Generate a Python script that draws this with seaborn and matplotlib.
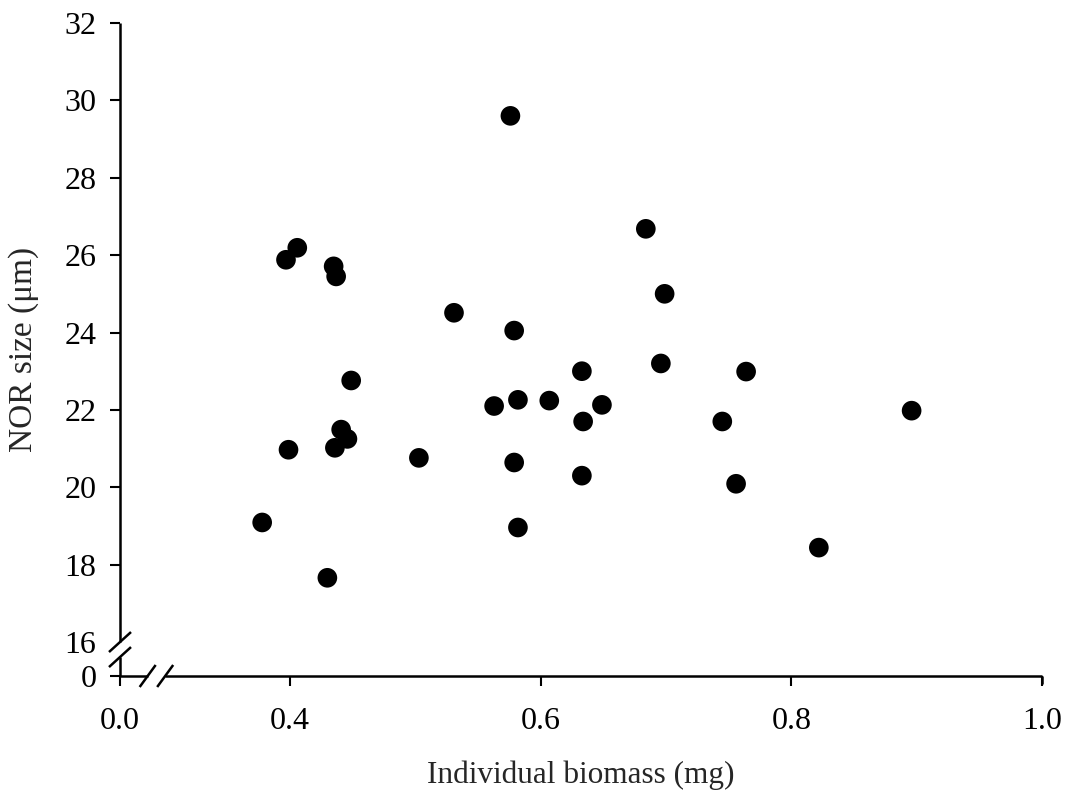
import numpy as np
import pandas as pd
import seaborn as sns
import matplotlib
matplotlib.use("Agg")
import matplotlib.pyplot as plt
from matplotlib.lines import Line2D

# Data (biomass in mg, NOR size in um).
biomass = [0.378, 0.397, 0.406, 0.399, 0.435, 0.437, 0.430, 0.436, 0.441, 0.446,
           0.449, 0.503, 0.531, 0.563, 0.576, 0.579, 0.582, 0.582, 0.579, 0.607,
           0.633, 0.634, 0.633, 0.684, 0.649, 0.696, 0.699, 0.745, 0.756, 0.764,
           0.822, 0.896]
nor_size = [19.09, 25.88, 26.19, 20.97, 25.71, 25.45, 17.66, 21.02, 21.49, 21.25,
            22.76, 20.76, 24.51, 22.10, 29.60, 24.05, 22.26, 18.96, 20.64, 22.24,
            23.00, 21.70, 20.30, 26.68, 22.13, 23.20, 25.00, 21.70, 20.09, 22.99,
            18.44, 21.98]

x_ticks = [0.0, 0.4, 0.6, 0.8, 1.0]
x_tick_labels = ["0.0", "0.4", "0.6", "0.8", "1.0"]
y_ticks = [0, 16, 18, 20, 22, 24, 26, 28, 30, 32]
y_tick_labels = ["0", "16", "18", "20", "22", "24", "26", "28", "30", "32"]

df = pd.DataFrame({"biomass": biomass, "nor": nor_size})

sns.set_style("ticks")
plt.rcParams["font.family"] = ["Liberation Serif", "DejaVu Serif"]

# Broken axes: compress the empty stretch below the break.
XB, KX = 0.3, 0.118
YB, KY = 16.0, 0.0549


def fwd_x(v):
    v = np.asarray(v, dtype=float)
    return np.where(v >= XB, v, XB - (XB - v) * KX)


def inv_x(v):
    v = np.asarray(v, dtype=float)
    return np.where(v >= XB, v, XB - (XB - v) / KX)


def fwd_y(v):
    v = np.asarray(v, dtype=float)
    return np.where(v >= YB, v, YB - (YB - v) * KY)


def inv_y(v):
    v = np.asarray(v, dtype=float)
    return np.where(v >= YB, v, YB - (YB - v) / KY)


fig = plt.figure(figsize=(10.68, 7.97), dpi=100)
ax = fig.add_axes([120 / 1068, 1 - 676 / 797, 922 / 1068, 653 / 797])

sns.scatterplot(data=df, x="biomass", y="nor", ax=ax, color="black",
                s=200, edgecolor="none", linewidth=0, clip_on=False)

ax.set_xscale("function", functions=(fwd_x, inv_x))
ax.set_yscale("function", functions=(fwd_y, inv_y))
ax.set_xlim(0, 1.0)
ax.set_ylim(0, 32)

ax.set_xticks(x_ticks)
ax.set_xticklabels(x_tick_labels)
ax.set_yticks(y_ticks)
ax.set_yticklabels(y_tick_labels)
ax.minorticks_off()

ax.tick_params(axis="x", direction="out", length=7, width=1.5, pad=15,
               labelsize=23, colors="black")
ax.tick_params(axis="y", direction="out", length=7, width=1.5, pad=10,
               labelsize=23, colors="black")
# no tick mark at 16, the break sits there
ax.yaxis.get_major_ticks()[1].tick1line.set_visible(False)

ax.set_xlabel("Individual biomass (mg)", fontsize=22.5, labelpad=18)
ax.set_ylabel("NOR size (\u03bcm)", fontsize=24, labelpad=18)

for sp in ax.spines.values():
    sp.set_visible(False)

# axis lines with gaps + double slashes for the breaks
lw = 1.8
kw = dict(transform=ax.transAxes, color="black", lw=lw, clip_on=False,
          solid_capstyle="butt")
y_hi, y_lo = 0.052, 0.029
x_lo, x_hi = 0.030, 0.049
ax.add_line(Line2D([0, 0], [y_hi, 1.0], **kw))
ax.add_line(Line2D([0, 0], [0, y_lo], **kw))
ax.add_line(Line2D([0, x_lo], [0, 0], **kw))
ax.add_line(Line2D([x_hi, 1.0], [0, 0], **kw))
ax.add_line(Line2D([1.0, 1.0], [0, -0.012], **kw))

dxs, dys = 11 / 922, 10 / 653
for cy in (y_hi, y_lo):
    ax.add_line(Line2D([-dxs, dxs], [cy - dys, cy + dys], **kw))
dxs, dys = 8 / 922, 11 / 653
for cx in (x_lo, x_hi):
    ax.add_line(Line2D([cx - dxs, cx + dxs], [-dys, dys], **kw))

fig.savefig("out.png", dpi=100, facecolor="white")
